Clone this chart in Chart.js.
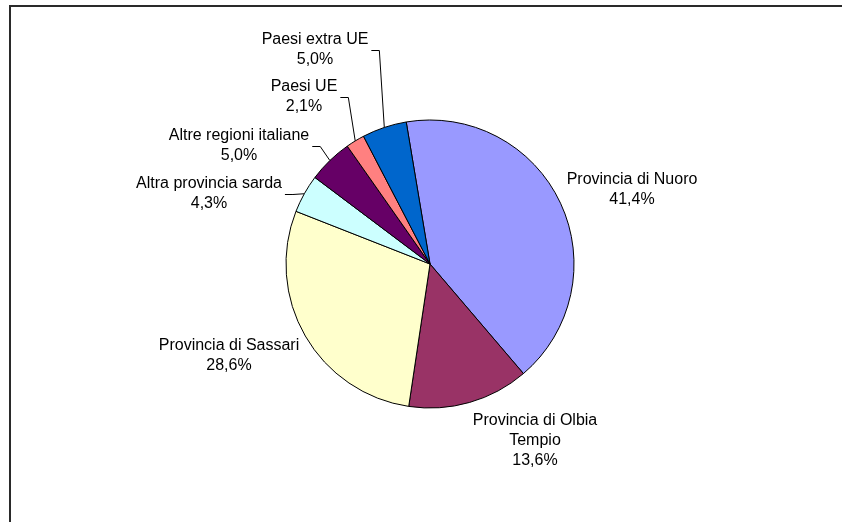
<!DOCTYPE html>
<html>
<head>
<meta charset="utf-8">
<script src="https://cdn.jsdelivr.net/npm/chart.js@4.4.0/dist/chart.umd.min.js"></script>
<style>
    html, body { margin: 0; padding: 0; background: #fff; overflow: hidden; }
    canvas { display: block; }
</style>
</head>
<body>
<canvas id="pie" width="842" height="522"></canvas>
<script>
// --- Data ---
const categories = [
    ['Provincia di Nuoro'],
    ['Provincia di Olbia', 'Tempio'],
    ['Provincia di Sassari'],
    ['Altra provincia sarda'],
    ['Altre regioni italiane'],
    ['Paesi UE'],
    ['Paesi extra UE']
];
const shares = [41.4, 13.6, 28.6, 4.3, 5.0, 2.1, 5.0];
const shareLabels = ['41,4%', '13,6%', '28,6%', '4,3%', '5,0%', '2,1%', '5,0%'];

// --- Styling / layout ---
const colors = ['#9999FF', '#993366', '#FFFFCC', '#CCFFFF', '#660066', '#FF8080', '#0066CC'];
// label block centre, relative to pie centre
const labelOffsets = [[202, -74], [105, 177], [-201, 92], [-221, -70], [-191, -118], [-126, -167], [-115, -214]];
const hasLeader = [false, false, false, true, true, true, true];
const FONT = '16px "Liberation Sans", Arial, sans-serif';
const LINE_H = 20;

// chart frame: only the left and top edges fall inside the picture
const framePlugin = {
    id: 'frame',
    beforeDraw(chart) {
        const ctx = chart.ctx;
        ctx.save();
        ctx.fillStyle = '#fff';
        ctx.fillRect(0, 0, chart.width, chart.height);
        ctx.strokeStyle = '#2a2a2a';
        ctx.lineWidth = 2;
        ctx.beginPath();
        ctx.moveTo(10, chart.height);
        ctx.lineTo(10, 6);
        ctx.lineTo(chart.width, 6);
        ctx.stroke();
        ctx.restore();
    }
};

const labelPlugin = {
    id: 'excelLabels',
    afterDatasetsDraw(chart) {
        const ctx = chart.ctx;
        const arcs = chart.getDatasetMeta(0).data;
        ctx.save();
        ctx.font = FONT;
        ctx.fillStyle = '#000';
        ctx.textAlign = 'center';
        ctx.textBaseline = 'middle';
        arcs.forEach((arc, i) => {
            const lines = categories[i].concat([shareLabels[i]]);
            const cx = arc.x + labelOffsets[i][0];
            const cy = arc.y + labelOffsets[i][1];
            const top = cy - (lines.length - 1) * LINE_H / 2;
            let maxW = 0;
            lines.forEach((t, k) => {
                ctx.fillText(t, cx, top + k * LINE_H);
                maxW = Math.max(maxW, ctx.measureText(t).width);
            });
            if (hasLeader[i]) {
                const mid = (arc.startAngle + arc.endAngle) / 2;
                const ex = arc.x + Math.cos(mid) * arc.outerRadius;
                const ey = arc.y + Math.sin(mid) * arc.outerRadius;
                const sx = cx + maxW / 2 + 3;
                ctx.beginPath();
                ctx.strokeStyle = '#000';
                ctx.lineWidth = 1;
                ctx.moveTo(sx, Math.round(cy) + 0.5);
                ctx.lineTo(sx + 8, Math.round(cy) + 0.5);
                ctx.lineTo(ex, ey);
                ctx.stroke();
            }
        });
        ctx.restore();
    }
};

new Chart(document.getElementById('pie').getContext('2d'), {
    type: 'pie',
    data: {
        labels: categories.map(c => c.join(' ')),
        datasets: [{
            data: shares,
            backgroundColor: colors,
            borderColor: '#000',
            borderWidth: 1,
            borderAlign: 'center',
            radius: 144
        }]
    },
    options: {
        responsive: false,
        animation: false,
        rotation: -9.5,
        layout: { padding: { left: 18, right: 0, top: 6, bottom: 0 } },
        plugins: {
            legend: { display: false },
            tooltip: { enabled: false }
        }
    },
    plugins: [framePlugin, labelPlugin]
});
</script>
</body>
</html>
